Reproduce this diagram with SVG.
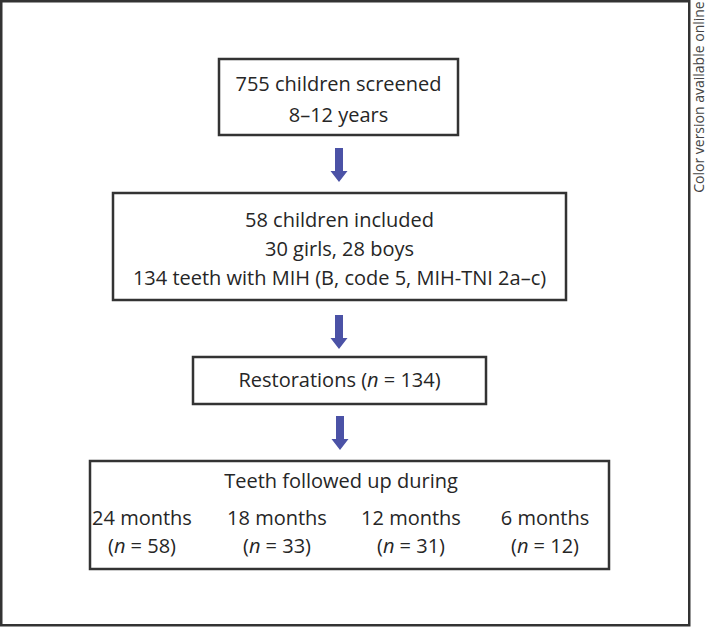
<svg xmlns="http://www.w3.org/2000/svg" width="709" height="627" viewBox="0 0 709 627">
<style>
.box{fill:#fff;stroke:#333;stroke-width:2.5}
.t{font-family:"Open Sans","Noto Sans","Liberation Sans",sans-serif;font-size:20px;fill:#262626;text-anchor:middle}
.arr{fill:#4b52a6}
</style>
<rect width="709" height="627" fill="#fff"/>
<rect x="1.25" y="1.25" width="688" height="624" fill="none" stroke="#333" stroke-width="2.5"/>
<text x="700.5" y="97" transform="rotate(-90 700.5 97)" font-family="'Open Sans','Noto Sans',sans-serif" font-size="14" fill="#444" text-anchor="middle" dominant-baseline="middle">Color version available online</text>
<g id="connectors">
<path class="arr" d="M335,148 H343 V171 H347.5 L339,182 L330.5,171 H335 Z"/>
<path class="arr" d="M335,315 H343 V338 H347.5 L339,349 L330.5,338 H335 Z"/>
<path class="arr" d="M336,416 H344 V439 H348.5 L340,450 L331.5,439 H336 Z"/>
</g>
<g id="n1">
<rect class="box" x="219" y="59" width="239" height="76"/>
<text class="t" x="338.5" y="91">755 children screened</text>
<text class="t" x="338.5" y="122">8–12 years</text>
</g>
<g id="n2">
<rect class="box" x="113" y="193" width="453" height="107"/>
<text class="t" x="339.5" y="227">58 children included</text>
<text class="t" x="339.5" y="256">30 girls, 28 boys</text>
<text class="t" x="339.5" y="285">134 teeth with MIH (B, code 5, MIH-TNI 2a–c)</text>
</g>
<g id="n3">
<rect class="box" x="193" y="357" width="293" height="47"/>
<text class="t" x="339.5" y="387">Restorations (<tspan font-style="italic">n</tspan> = 134)</text>
</g>
<g id="n4">
<rect class="box" x="90" y="461" width="519" height="108"/>
<text class="t" x="341" y="488">Teeth followed up during</text>
<text class="t" x="142" y="525">24 months</text>
<text class="t" x="142" y="553">(<tspan font-style="italic">n</tspan> = 58)</text>
<text class="t" x="277" y="525">18 months</text>
<text class="t" x="277" y="553">(<tspan font-style="italic">n</tspan> = 33)</text>
<text class="t" x="411" y="525">12 months</text>
<text class="t" x="411" y="553">(<tspan font-style="italic">n</tspan> = 31)</text>
<text class="t" x="545" y="525">6 months</text>
<text class="t" x="545" y="553">(<tspan font-style="italic">n</tspan> = 12)</text>
</g>
</svg>
